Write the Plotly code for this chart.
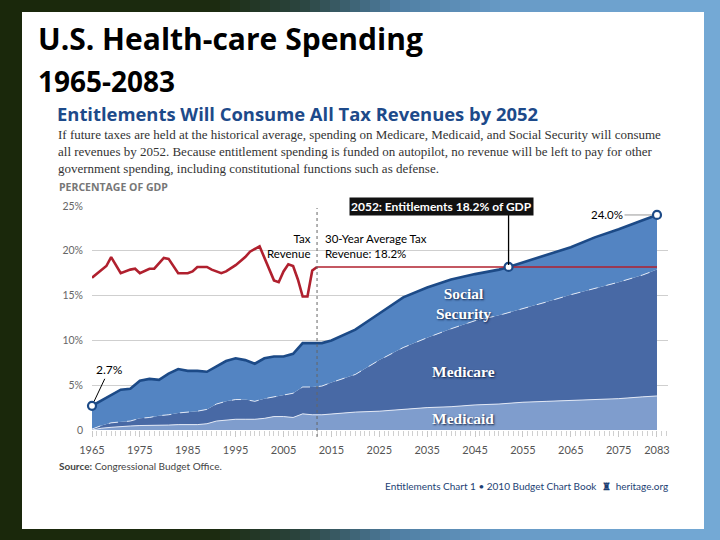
import plotly.graph_objects as go

# ---------------- data ----------------
years = [1965, 1967, 1969, 1971, 1973, 1975, 1977, 1979, 1981, 1983, 1985, 1987, 1989,
         1991, 1993, 1995, 1997, 1999, 2001, 2003, 2005, 2007, 2009, 2011, 2013, 2015,
         2020, 2025, 2030, 2035, 2040, 2045, 2050, 2052, 2055, 2060, 2065, 2070, 2075,
         2080, 2083]
medicaid = [0.0, 0.2, 0.3, 0.4, 0.45, 0.5, 0.5, 0.5, 0.55, 0.6, 0.6, 0.6, 0.7,
            1.0, 1.1, 1.2, 1.2, 1.2, 1.3, 1.5, 1.5, 1.4, 1.8, 1.7, 1.7, 1.8,
            2.0, 2.1, 2.3, 2.5, 2.6, 2.8, 2.9, 3.0, 3.1, 3.2, 3.3, 3.4, 3.5,
            3.7, 3.8]
medicare = [0.1, 0.3, 0.5, 0.5, 0.55, 0.8, 0.9, 1.1, 1.15, 1.3, 1.4, 1.5, 1.6,
            1.9, 2.1, 2.2, 2.2, 2.0, 2.2, 2.2, 2.4, 2.7, 3.0, 3.1, 3.2, 3.5,
            4.2, 5.7, 6.9, 7.8, 8.7, 9.4, 9.9, 10.1, 10.4, 11.1, 11.8, 12.4, 13.0,
            13.6, 14.1]
social_security = [2.6, 2.8, 3.1, 3.6, 3.6, 4.2, 4.3, 4.0, 4.6, 4.9, 4.6, 4.5, 4.2,
                   4.2, 4.5, 4.6, 4.4, 4.2, 4.5, 4.5, 4.3, 4.4, 4.9, 4.9, 4.8, 4.7,
                   5.0, 5.2, 5.6, 5.6, 5.5, 5.2, 5.1, 5.1, 5.2, 5.2, 5.3, 5.7, 5.9,
                   6.1, 6.1]

tax_years = [1965, 1967, 1968, 1969, 1971, 1973, 1974, 1975, 1977, 1978, 1980, 1981,
             1983, 1985, 1986, 1987, 1989, 1990, 1992, 1993, 1995, 1997, 1998, 2000,
             2001, 2003, 2004, 2005, 2006, 2007, 2008, 2009, 2010, 2011, 2012]
tax_revenue = [17.0, 17.9, 18.3, 19.3, 17.5, 17.9, 18.0, 17.5, 18.0, 18.0, 19.2, 19.1,
               17.5, 17.5, 17.7, 18.2, 18.2, 17.9, 17.5, 17.7, 18.4, 19.3, 19.9, 20.5,
               19.3, 16.7, 16.5, 17.7, 18.5, 18.3, 16.8, 14.9, 14.9, 17.8, 18.2]
avg_years = [2012, 2083]
avg_tax = [18.2, 18.2]

point_years = [1965, 2052, 2083]
point_vals = [2.7, 18.2, 24.0]

projection_start = 2012

x_tickvals = [1965, 1975, 1985, 1995, 2005, 2015, 2025, 2035, 2045, 2055, 2065, 2075, 2083]
x_ticktext = ["1965", "1975", "1985", "1995", "2005", "2015", "2025", "2035", "2045",
              "2055", "2065", "2075", "2083"]
y_tickvals = [0, 5, 10, 15, 20, 25]
y_ticktext = ["0", "5%", "10%", "15%", "20%", "25%"]

# ---------------- helpers ----------------
W, H = 720, 540


def px(x, y):
    return x / W, 1 - y / H


def hex2rgb(h):
    h = h.lstrip("#")
    return tuple(int(h[i:i + 2], 16) for i in (0, 2, 4))


def lerp_color(stops, t):
    for (t0, c0), (t1, c1) in zip(stops, stops[1:]):
        if t0 <= t <= t1:
            f = (t - t0) / (t1 - t0) if t1 > t0 else 0
            a, b = hex2rgb(c0), hex2rgb(c1)
            return "rgb(%d,%d,%d)" % tuple(round(a[i] + (b[i] - a[i]) * f) for i in range(3))
    return stops[-1][1]


NAVY = "#1c4a87"
SS_FILL = "#5384c2"
MC_FILL = "#4869a5"
MD_FILL = "#7f9dcd"
RED = "#b0202e"

fig = go.Figure()

fig.add_trace(go.Scatter(x=years, y=medicaid, stackgroup="one", mode="lines",
                         line=dict(color="rgba(235,240,250,0.9)", width=1),
                         fillcolor=MD_FILL, name="Medicaid", hoverinfo="skip"))
fig.add_trace(go.Scatter(x=years, y=medicare, stackgroup="one", mode="lines",
                         line=dict(color="rgba(235,240,250,0.9)", width=1, dash="dash"),
                         fillcolor=MC_FILL, name="Medicare", hoverinfo="skip"))
fig.add_trace(go.Scatter(x=years, y=social_security, stackgroup="one", mode="lines",
                         line=dict(color=NAVY, width=2.6),
                         fillcolor=SS_FILL, name="Social Security", hoverinfo="skip"))

fig.add_trace(go.Scatter(x=tax_years, y=tax_revenue, mode="lines",
                         line=dict(color=RED, width=2.6), hoverinfo="skip"))
fig.add_trace(go.Scatter(x=avg_years, y=avg_tax, mode="lines",
                         line=dict(color=RED, width=1.6), hoverinfo="skip"))

fig.add_trace(go.Scatter(x=point_years, y=point_vals, mode="markers",
                         marker=dict(size=8, color="white", line=dict(color=NAVY, width=2.2)),
                         hoverinfo="skip", cliponaxis=False))

# ---------------- background ----------------
shapes = []
stops = [(0.0, "#1a280b"), (0.30, "#1c2b10"), (0.42, "#2b4540"), (0.55, "#4f7ea2"),
         (0.70, "#679ac6"), (1.0, "#74a9d5")]
n = 72
for i in range(n):
    x0 = i / n
    x1 = (i + 1) / n
    shapes.append(dict(type="rect", xref="paper", yref="paper", x0=x0,
                       x1=min(1.0, x1 + 0.002), y0=0, y1=1, line=dict(width=0),
                       fillcolor=lerp_color(stops, (x0 + x1) / 2), layer="below"))
# white panel
a0 = px(22, 12)
a1 = px(704, 529)
shapes.append(dict(type="rect", xref="paper", yref="paper", x0=a0[0], x1=a1[0],
                   y0=a1[1], y1=a0[1], line=dict(width=0), fillcolor="white", layer="below"))
# projection divider
shapes.append(dict(type="line", xref="x", yref="paper", x0=projection_start, x1=projection_start,
                   y0=px(0, 437)[1], y1=px(0, 208)[1],
                   line=dict(color="#666", width=1, dash="dot"), layer="above"))
# 2052 leader line
shapes.append(dict(type="line", xref="x", yref="paper", x0=2052, x1=2052,
                   y0=px(0, 265)[1], y1=px(0, 215)[1],
                   line=dict(color="black", width=1.3), layer="above"))

ann = []


def text(x, y, s, size, color="black", family="Lato", xanchor="left", weight="normal",
         align="left", **kw):
    px_, py_ = px(x, y)
    d = dict(xref="paper", yref="paper", x=px_, y=py_, text=s, showarrow=False,
             xanchor=xanchor, yanchor="middle", align=align,
             font=dict(size=size, color=color, family=family, weight=weight))
    d.update(kw)
    ann.append(d)


text(36, 39, "U.S. Health-care Spending", 30, "black", "Open Sans", weight="bold")
text(36, 81, "1965-2083", 28, "black", "Open Sans", weight="bold")
text(56, 113, "Entitlements Will Consume All Tax Revenues by 2052", 18.4, "#1d4a8a",
     "Open Sans", weight="bold", borderpad=0)
para = ["If future taxes are held at the historical average, spending on Medicare, Medicaid, and Social Security will consume",
        "all revenues by 2052. Because entitlement spending is funded on autopilot, no revenue will be left to pay for other",
        "government spending, including constitutional functions such as defense."]
text(57, 152, "<br>".join(para), 13, "#333", "Liberation Serif", borderpad=0)
text(57, 187, "PERCENTAGE OF GDP", 10.5, "#777", "Open Sans", weight="bold")
text(57, 466, "<b>Source:</b> Congressional Budget Office.", 10, "#444", "Lato")
text(670, 486, "Entitlements Chart 1 • 2010 Budget Chart Book  <b>♜</b>  heritage.org", 10,
     "#1d3f74", "Lato", xanchor="right")

text(313, 246, "Tax<br>Revenue", 11.5, "black", "Lato", xanchor="right", align="right")
text(323, 246, "30-Year Average Tax<br>Revenue: 18.2%", 11.5, "black", "Lato")

# 2052 box
bx, by = px(441, 207)
ann.append(dict(xref="paper", yref="paper", x=bx, y=by, text="2052: Entitlements 18.2% of GDP",
                showarrow=False, xanchor="center", yanchor="middle", bgcolor="#111",
                borderpad=1, font=dict(size=12, color="white", family="Lato", weight="bold")))

# 2.7% and 24.0%
ann.append(dict(x=1965, y=2.7, xref="x", yref="y", text="2.7%", showarrow=True, arrowhead=0,
                arrowwidth=1, arrowcolor="black", ax=17, ay=-36, standoff=5,
                font=dict(size=12, color="black", family="Lato")))
ann.append(dict(x=2083, y=24.0, xref="x", yref="y", text="24.0%", showarrow=True, arrowhead=0,
                arrowwidth=1, arrowcolor="#999", ax=-50, ay=0, standoff=5,
                font=dict(size=11.5, color="black", family="Lato")))

shadow = "1px 1px 2px rgba(10,25,60,0.9)"
for (xx, yy, s) in [(463, 303, "Social<br>Security"), (463, 371, "Medicare"),
                    (463, 418, "Medicaid")]:
    px_, py_ = px(xx, yy)
    ann.append(dict(xref="paper", yref="paper", x=px_, y=py_, text=s, showarrow=False,
                    xanchor="center", yanchor="middle", align="center",
                    font=dict(size=15.5, color="white", family="Liberation Serif", weight="bold",
                              shadow=shadow)))

fig.update_layout(
    width=W, height=H, autosize=False,
    margin=dict(l=0, r=0, t=0, b=0, pad=0, autoexpand=False),
    paper_bgcolor="#1a280b", plot_bgcolor="rgba(0,0,0,0)",
    showlegend=False, shapes=shapes, annotations=ann,
    xaxis=dict(domain=[92 / W, 668 / W], range=[1965, 2085.3], tickvals=x_tickvals,
               ticktext=x_ticktext, showgrid=False, zeroline=False, showline=False,
               automargin=False,
               ticks="outside", ticklen=6, tickcolor="#c8c8c8", tickwidth=1,
               minor=dict(tick0=1965, dtick=1, ticks="outside", ticklen=5, tickcolor="#d0d0d0"),
               tickfont=dict(size=11, color="#555", family="Lato"), ticklabelstandoff=4),
    yaxis=dict(domain=[(H - 430) / H, (H - 206) / H], range=[0, 25], tickvals=y_tickvals,
               ticktext=y_ticktext, showgrid=True, gridcolor="#cfcfcf", gridwidth=1,
               zeroline=False, showline=False, ticks="", automargin=False,
               tickfont=dict(size=10.5, color="#666", family="Lato"), ticklabelstandoff=8),
)

fig.write_html(
    "out.html",
    config={"displayModeBar": False},
    post_script="document.body.style.margin='0';document.body.style.overflow='hidden';"
                "document.documentElement.style.overflow='hidden';",
)
